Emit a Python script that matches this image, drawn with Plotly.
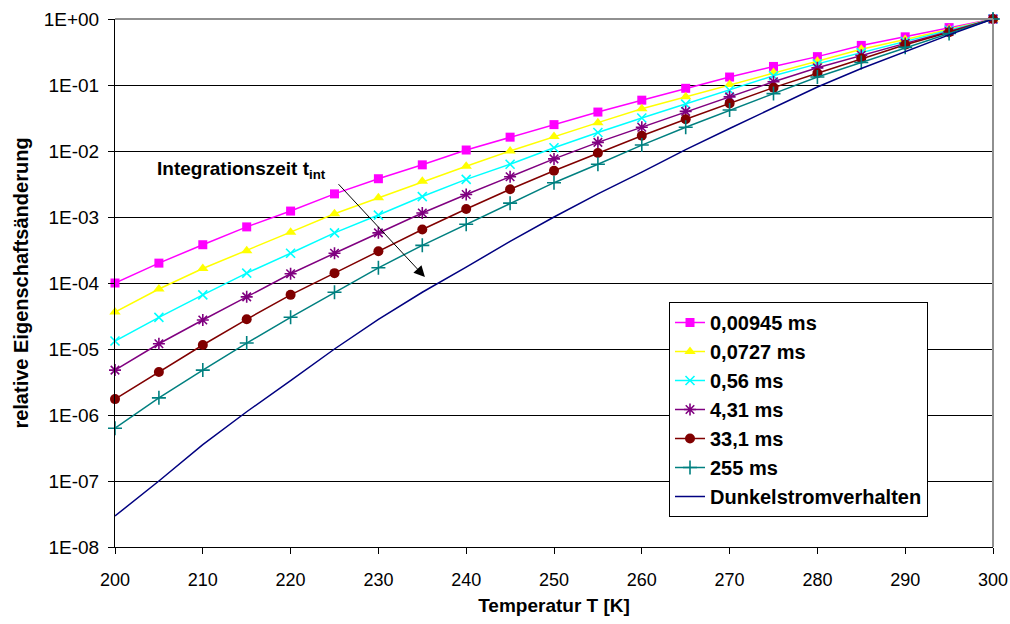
import plotly.graph_objects as go

temps = [200, 205, 210, 215, 220, 225, 230, 235, 240, 245, 250,
         255, 260, 265, 270, 275, 280, 285, 290, 295, 300]

t_00945 = [1.0e-4, 2.0e-4, 3.8e-4, 7.08e-4, 1.23e-3, 2.24e-3, 3.8e-3, 6.17e-3, 1.035e-2, 1.62e-2, 2.51e-2,
           3.89e-2, 5.89e-2, 8.91e-2, 0.132, 0.191, 0.269, 0.398, 0.537, 0.741, 1.0]
t_0727 = [3.63e-5, 8.1e-5, 1.66e-4, 3.09e-4, 5.89e-4, 1.12e-3, 1.95e-3, 3.47e-3, 5.89e-3, 1.0e-2, 1.66e-2,
          2.69e-2, 4.37e-2, 6.61e-2, 0.102, 0.155, 0.229, 0.347, 0.49, 0.708, 1.0]
t_056 = [1.32e-5, 3.02e-5, 6.61e-5, 1.41e-4, 2.82e-4, 5.75e-4, 1.07e-3, 2.04e-3, 3.72e-3, 6.31e-3, 1.12e-2,
         1.91e-2, 3.16e-2, 5.13e-2, 8.32e-2, 0.138, 0.209, 0.309, 0.457, 0.676, 1.0]
t_431 = [4.79e-6, 1.2e-5, 2.75e-5, 6.17e-5, 1.38e-4, 2.82e-4, 5.75e-4, 1.15e-3, 2.19e-3, 4.07e-3, 7.59e-3,
         1.35e-2, 2.29e-2, 3.98e-2, 6.61e-2, 0.112, 0.182, 0.282, 0.427, 0.646, 1.0]
t_331 = [1.74e-6, 4.47e-6, 1.15e-5, 2.82e-5, 6.61e-5, 1.41e-4, 3.02e-4, 6.46e-4, 1.32e-3, 2.63e-3, 5.01e-3,
         9.33e-3, 1.7e-2, 3.02e-2, 5.25e-2, 9.12e-2, 0.151, 0.251, 0.407, 0.631, 1.0]
t_255 = [6.31e-7, 1.82e-6, 4.79e-6, 1.23e-5, 3.02e-5, 7.24e-5, 1.7e-4, 3.72e-4, 7.76e-4, 1.62e-3, 3.31e-3,
         6.31e-3, 1.23e-2, 2.29e-2, 4.17e-2, 7.41e-2, 0.132, 0.219, 0.372, 0.603, 1.0]
dunkel = [2.95e-8, 1.0e-7, 3.55e-7, 1.12e-6, 3.31e-6, 1.0e-5, 2.82e-5, 7.24e-5, 1.74e-4, 4.27e-4, 1.0e-3,
          2.24e-3, 4.79e-3, 1.05e-2, 2.19e-2, 4.57e-2, 9.33e-2, 0.178, 0.324, 0.575, 1.0]

series_names = ["0,00945 ms", "0,0727 ms", "0,56 ms", "4,31 ms", "33,1 ms", "255 ms", "Dunkelstromverhalten"]
y_tickvals = [1e0, 1e-1, 1e-2, 1e-3, 1e-4, 1e-5, 1e-6, 1e-7, 1e-8]
y_ticktext = ["1E+00", "1E-01", "1E-02", "1E-03", "1E-04", "1E-05", "1E-06", "1E-07", "1E-08"]
x_tickvals = [200, 210, 220, 230, 240, 250, 260, 270, 280, 290, 300]

styles = [
    dict(color="#FF00FF", symbol="square", size=9, mlw=0),
    dict(color="#FFFF00", symbol="triangle-up", size=10, mlw=0),
    dict(color="#00FFFF", symbol="x-thin", size=9, mlw=1.6),
    dict(color="#800080", symbol="asterisk", size=10, mlw=1.6),
    dict(color="#800000", symbol="circle", size=10, mlw=0),
    dict(color="#008080", symbol="cross-thin", size=10, mlw=1.6),
]
data_series = [t_00945, t_0727, t_056, t_431, t_331, t_255]

FONT = "Liberation Sans, Arial, sans-serif"
L, R, T, B = 115, 17, 19, 77
W, H = 1010, 624
plot_w = W - L - R
plot_h = H - T - B

fig = go.Figure()
for i, (vals, st) in enumerate(zip(data_series, styles)):
    fig.add_trace(go.Scatter(
        x=temps, y=vals, name=series_names[i], mode="lines+markers",
        legendgroup=f"g{i}",
        line=dict(color=st["color"], width=1.5),
        marker=dict(symbol=st["symbol"], size=st["size"], color=st["color"],
                    line=dict(color=st["color"], width=st["mlw"])),
        cliponaxis=False,
    ))
fig.add_trace(go.Scatter(
    x=temps, y=dunkel, name=series_names[6], mode="lines", legendgroup="g6",
    line=dict(color="#000080", width=1.5),
))

fig.update_layout(
    width=W, height=H,
    margin=dict(l=L, r=R, t=T, b=B, autoexpand=False),
    paper_bgcolor="white", plot_bgcolor="white",
    font=dict(family=FONT, size=19, color="black"),
    showlegend=True,
    legend=dict(
        x=(669 - L) / plot_w, y=(H - B - 302) / plot_h,
        xanchor="left", yanchor="top",
        bgcolor="white", bordercolor="black", borderwidth=1,
        font=dict(family=FONT, size=20, color="black", weight="bold"),
        traceorder="grouped", tracegroupgap=0,
        itemwidth=30,
    ),
)

fig.update_xaxes(
    type="linear", range=[200, 300], tickvals=x_tickvals, automargin=False,
    ticks="outside", ticklen=6, tickcolor="black", tickwidth=1,
    ticklabelstandoff=10,
    showline=True, linecolor="black", linewidth=1, showgrid=False, zeroline=False,
    tickfont=dict(family=FONT, size=18),
    title=dict(text="Temperatur T [K]", font=dict(family=FONT, size=19, weight="bold"), standoff=10),
)
fig.update_yaxes(
    type="log", range=[-8, 0], tickvals=y_tickvals, ticktext=y_ticktext, automargin=False,
    ticks="outside", ticklen=6, tickcolor="black", tickwidth=1,
    ticklabelstandoff=5,
    showline=True, linecolor="black", linewidth=1,
    showgrid=True, gridcolor="black", gridwidth=1, zeroline=False,
    tickfont=dict(family=FONT, size=19),
    title=dict(text="relative Eigenschaftsänderung", font=dict(family=FONT, size=20, weight="bold"), standoff=9),
)

# top and right border in grey
fig.add_shape(type="line", xref="paper", yref="paper", x0=0, x1=1, y0=1, y1=1,
              line=dict(color="#909090", width=2))
fig.add_shape(type="line", xref="paper", yref="paper", x0=1, x1=1, y0=0, y1=1,
              line=dict(color="#909090", width=2))

fig.add_annotation(
    x=204.6, y=-2.29, xref="x", yref="y", xanchor="left", yanchor="middle",
    text="<b>Integrationszeit t<sub>int</sub></b>", showarrow=False,
    font=dict(family=FONT, size=19, color="black"),
)
fig.add_annotation(
    x=235.3, y=-3.91, xref="x", yref="y",
    ax=225.3, ay=-2.48, axref="x", ayref="y",
    text="", showarrow=True, arrowhead=2, arrowsize=2.2, arrowwidth=1, arrowcolor="black",
)

fig.write_html("out.html")
